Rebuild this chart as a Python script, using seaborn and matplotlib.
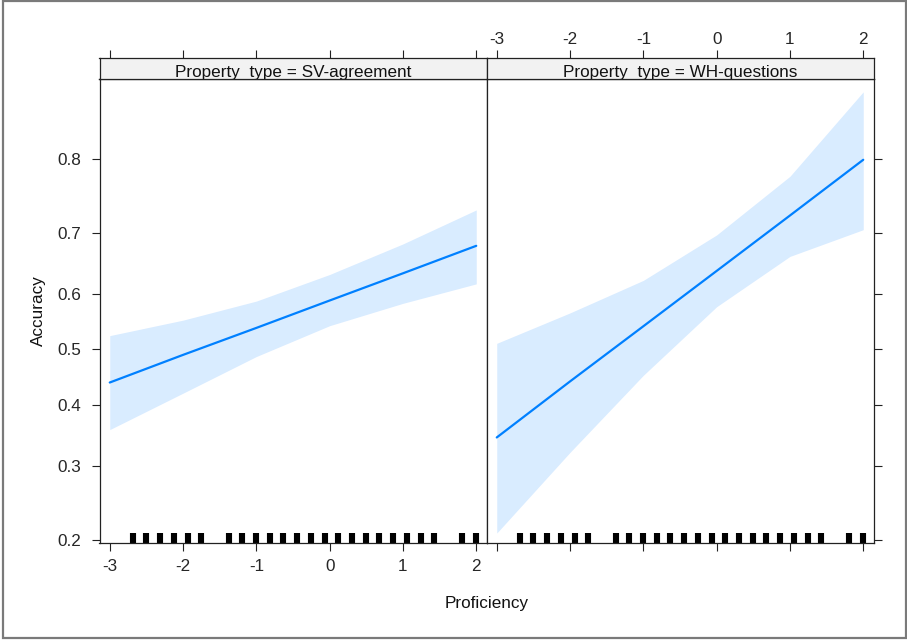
import pandas as pd
import matplotlib
matplotlib.use("Agg")
import matplotlib.pyplot as plt
import seaborn as sns
from matplotlib.ticker import FixedLocator, FormatStrFormatter, NullLocator
from matplotlib.patches import Rectangle

# valeurs (effet de Proficiency, échelle logit)
proficiency = [-3, -2, -1, 0, 1, 2]

sv_fit = [0.440, 0.490, 0.539, 0.588, 0.635, 0.680]
sv_lower = [0.358, 0.421, 0.487, 0.543, 0.583, 0.617]
sv_upper = [0.525, 0.553, 0.587, 0.633, 0.683, 0.734]

wh_fit = [0.345, 0.442, 0.542, 0.639, 0.726, 0.799]
wh_lower = [0.208, 0.321, 0.453, 0.577, 0.663, 0.705]
wh_upper = [0.511, 0.566, 0.623, 0.697, 0.779, 0.867]

rug_x = [-2.68, -2.50, -2.31, -2.12, -1.93, -1.75, -1.37, -1.19, -1.00, -0.81,
         -0.63, -0.44, -0.25, -0.07, 0.12, 0.30, 0.49, 0.68, 0.86, 1.05,
         1.24, 1.43, 1.80, 1.99]

panels = ["SV-agreement", "WH-questions"]
y_ticks = [0.2, 0.3, 0.4, 0.5, 0.6, 0.7, 0.8]
x_ticks = [-3, -2, -1, 0, 1, 2]

df = pd.concat([
    pd.DataFrame({"Proficiency": proficiency, "fit": sv_fit, "lower": sv_lower,
                  "upper": sv_upper, "Property_type": panels[0]}),
    pd.DataFrame({"Proficiency": proficiency, "fit": wh_fit, "lower": wh_lower,
                  "upper": wh_upper, "Property_type": panels[1]}),
])

sns.set_style("white")
plt.rcParams["font.family"] = ["Liberation Sans", "DejaVu Sans"]
plt.rcParams["axes.unicode_minus"] = False
fs = 12.3
line_col = "#0080ff"
band_col = "#d9ecff"

W, H = 907, 640
fig = plt.figure(figsize=(W / 100, H / 100), dpi=100)

def fx(px):
    return px / W

def fy(py):
    return 1 - py / H

lefts = [99.5, 486.5]
pw = 387
top_strip, bot_strip, bot_panel = 57.7, 79.0, 543.3

for i, ptype in enumerate(panels):
    ax = fig.add_axes([fx(lefts[i]), fy(bot_panel), pw / W, (bot_panel - bot_strip) / H])
    sax = fig.add_axes([fx(lefts[i]), fy(bot_strip), pw / W, (bot_strip - top_strip) / H], sharex=ax)
    sub = df[df["Property_type"] == ptype]

    ax.set_yscale("logit")
    ax.fill_between(sub["Proficiency"], sub["lower"], sub["upper"], color=band_col, lw=0)
    sns.lineplot(data=sub, x="Proficiency", y="fit", color=line_col, linewidth=1.6,
                 estimator=None, ax=ax)
    sns.rugplot(x=rug_x, height=0.022, color="black", linewidth=4.4, ax=ax,
                expand_margins=False)

    ax.set_xlim(-3.14, 2.14)
    ax.set_ylim(0.196, 0.8774)
    ax.yaxis.set_major_locator(FixedLocator(y_ticks))
    ax.yaxis.set_major_formatter(FormatStrFormatter("%.1f"))
    ax.yaxis.set_minor_locator(NullLocator())
    ax.xaxis.set_major_locator(FixedLocator(x_ticks))
    ax.set_xlabel("")
    ax.set_ylabel("")

    for a in (ax, sax):
        for s in a.spines.values():
            s.set_color("#222222")
            s.set_linewidth(0.9)
            s.set_zorder(5)

    ax.tick_params(axis="both", which="both", direction="out", length=6,
                   width=0.8, color="#222222", labelsize=fs)
    sax.tick_params(axis="both", which="both", direction="out", length=6,
                    width=0.8, color="#222222", labelsize=fs)
    sax.set_yticks([])
    sax.set_facecolor("#f2f2f2")
    sax.xaxis.set_ticks_position("top")

    if i == 0:
        ax.tick_params(axis="x", bottom=True, labelbottom=True, pad=5)
        ax.tick_params(axis="y", left=True, labelleft=True, right=False, pad=7)
        sax.tick_params(axis="x", top=True, labeltop=False, bottom=False, labelbottom=False)
    else:
        ax.tick_params(axis="x", bottom=True, labelbottom=False)
        ax.tick_params(axis="y", left=False, labelleft=False, right=True, labelright=False)
        sax.tick_params(axis="x", top=True, labeltop=True, bottom=False,
                        labelbottom=False, pad=2)

    sax.text(0.5, 0.08, f"Property_type = {ptype}", transform=sax.transAxes,
             ha="center", va="baseline", fontsize=fs, color="#111111", clip_on=True)

fig.text(fx(486.5), fy(608), "Proficiency", ha="center", va="baseline",
         fontsize=fs, color="#111111")
fig.text(fx(38.5), fy(311), "Accuracy", ha="center", va="center", rotation=90,
         fontsize=fs, color="#111111")

fig.patches.append(Rectangle((fx(3), fy(638)), fx(902.5), (637) / H, fill=False,
                             ec="#7a7a7a", lw=1.6, transform=fig.transFigure))

fig.savefig("out.png", dpi=100)
